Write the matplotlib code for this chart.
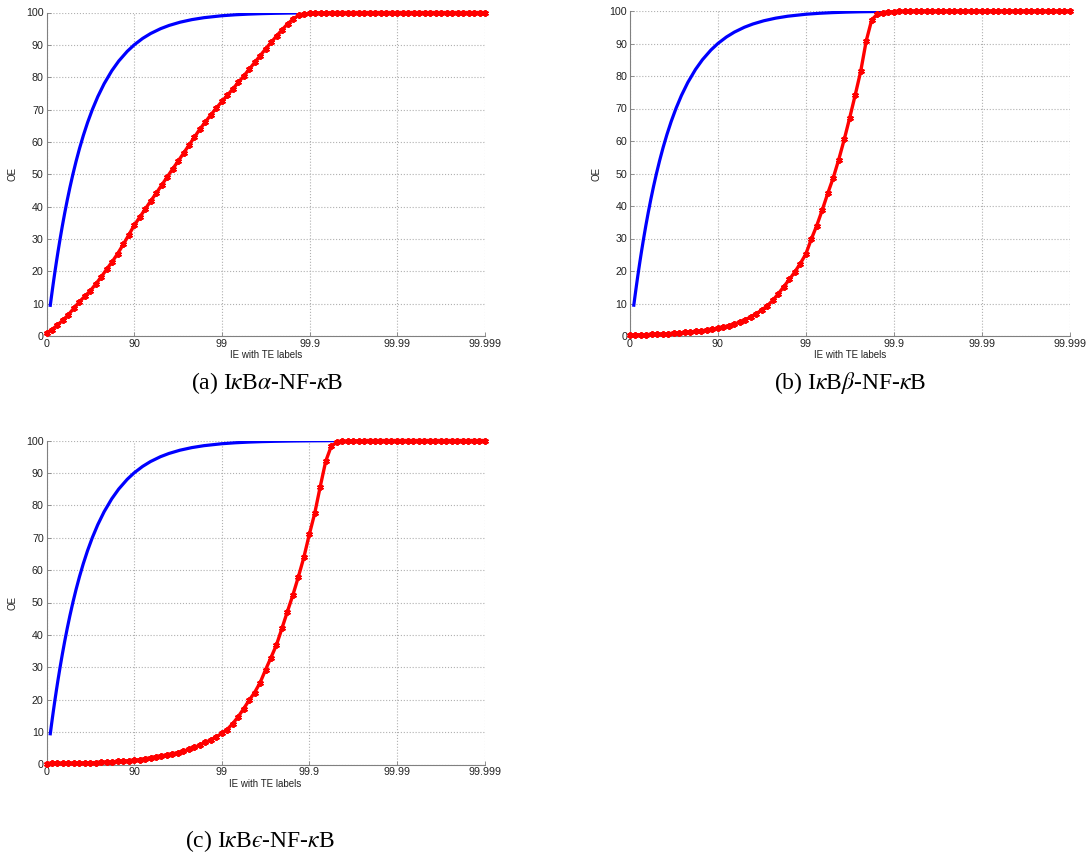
import numpy as np
import matplotlib
matplotlib.use("Agg")
import matplotlib.pyplot as plt

plt.rcParams["font.family"] = ["Liberation Sans", "DejaVu Sans"]
plt.rcParams["mathtext.fontset"] = "stix"

# x axis: number of "nines" of IE, labelled with the TE values
tick_pos = [0, 1, 2, 3, 4, 5]
tick_labels = ["0", "90", "99", "99.9", "99.99", "99.999"]

# reference diagonal OE = IE (percent)
ie_diag = [9, 10, 12, 14, 16, 18, 20, 23, 26, 30, 34, 38, 42, 46, 50, 54, 58,
           62, 66, 70, 74, 78, 82, 85, 88, 90, 92, 93.5, 95, 96, 97, 97.8,
           98.4, 99, 99.3, 99.5, 99.65, 99.75, 99.85, 99.9, 99.94, 99.97,
           99.99, 99.995, 99.999]

# OE of each complex on a grid of 1/16 nine steps from 0 to 5
oe_alpha = [0.8, 2.0, 3.4, 4.9, 6.6, 8.6, 10.6, 12.3, 14.0, 16.1, 18.3, 20.7,
            23.0, 25.5, 28.3, 31.2, 34.2, 36.7, 39.2, 41.7, 44.1, 46.6, 49.1,
            51.6, 54.0, 56.5, 59.0, 61.5, 64.0, 66.2, 68.4, 70.5, 72.5, 74.4,
            76.4, 78.4, 80.4, 82.5, 84.6, 86.7, 88.8, 90.8, 92.8, 94.7, 96.5,
            98.0, 99.1, 99.5, 99.7, 99.8, 99.9, 99.9,
            100, 100, 100, 100, 100, 100, 100, 100, 100, 100, 100, 100, 100,
            100, 100, 100, 100, 100, 100, 100, 100, 100, 100, 100, 100, 100,
            100, 100, 100]

oe_beta = [0.3, 0.35, 0.4, 0.45, 0.5, 0.55, 0.65, 0.75, 0.85, 0.95, 1.1, 1.25,
           1.4, 1.6, 1.85, 2.1, 2.4, 2.8, 3.2, 3.7, 4.3, 5.0, 5.9, 6.9, 8.0,
           9.3, 11.0, 13.0, 15.2, 17.4, 19.7, 22.3, 25.2, 29.8, 34.0, 38.8,
           43.9, 48.7, 54.3, 60.5, 67.2, 74.2, 81.5, 90.8, 97.3, 99.0, 99.5,
           99.7, 99.8, 99.9, 99.9,
           100, 100, 100, 100, 100, 100, 100, 100, 100, 100, 100, 100, 100,
           100, 100, 100, 100, 100, 100, 100, 100, 100, 100, 100, 100, 100,
           100, 100, 100, 100]

oe_epsilon = [0.3, 0.32, 0.34, 0.36, 0.38, 0.41, 0.45, 0.5, 0.55, 0.6, 0.68,
              0.75, 0.85, 0.95, 1.05, 1.15, 1.3, 1.5, 1.8, 2.1, 2.4, 2.7, 3.0,
              3.3, 3.7, 4.1, 4.7, 5.3, 6.0, 6.8, 7.6, 8.5, 9.6, 10.8, 12.6,
              14.7, 17.2, 19.8, 22.2, 25.2, 29.2, 33.0, 36.9, 42.0, 47.2, 52.3,
              57.9, 63.9, 71.0, 77.6, 85.8, 93.6, 98.2, 99.4, 99.7, 99.8, 99.9,
              99.9,
              100, 100, 100, 100, 100, 100, 100, 100, 100, 100, 100, 100, 100,
              100, 100, 100, 100, 100, 100, 100, 100, 100, 100]

captions = [r"(a) I$\kappa$B$\alpha$-NF-$\kappa$B",
            r"(b) I$\kappa$B$\beta$-NF-$\kappa$B",
            "(c) I$\\kappa$B$\u03f5$-NF-$\\kappa$B"]

W, H = 1091, 856
fig = plt.figure(figsize=(W / 100, H / 100), dpi=100)


def px_axes(left, top, right, bottom):
    return fig.add_axes([left / W, 1 - bottom / H, (right - left) / W,
                         (bottom - top) / H])


boxes = [(46.5, 12.5, 485, 336), (630, 11, 1069.5, 336),
         (46.5, 440.5, 484.5, 764.5)]
caption_xy = [(267, 383), (850, 383), (260, 841)]
series = [oe_alpha, oe_beta, oe_epsilon]

diag_x = -np.log10(1 - np.array(ie_diag) / 100.0)

for box, oe, cap, cxy in zip(boxes, series, captions, caption_xy):
    ax = px_axes(*box)
    nines = np.arange(len(oe)) / 16.0
    ax.plot(diag_x, ie_diag, color="#0000ff", lw=2.3, solid_capstyle="butt",
            zorder=3)
    ax.plot(nines, oe, color="#ff0000", lw=2.4, marker=(6, 2, 0),
            ms=4.8, mew=1.4, mec="#ff0000", zorder=4, clip_on=False)
    ax.set_xlim(0, 5)
    ax.set_ylim(0, 100)
    ax.set_xticks(tick_pos)
    ax.set_xticklabels(tick_labels)
    ax.set_yticks(np.arange(0, 101, 10))
    ax.grid(True, linestyle=":", color="#b0b0b0", lw=0.8)
    for s in ("top", "right"):
        ax.spines[s].set_visible(False)
    for s in ("left", "bottom"):
        ax.spines[s].set_color("#808080")
        ax.spines[s].set_linewidth(0.8)
    ax.tick_params(direction="in", length=3, width=0.6, color="#808080",
                   labelsize=7.7, labelcolor="#222222", pad=2)
    ax.set_xlabel("IE with TE labels", fontsize=7, color="#222222", labelpad=1)
    ax.set_ylabel("OE", fontsize=7, color="#222222", labelpad=6)
    fig.text(cxy[0] / W, 1 - cxy[1] / H, cap, ha="center", va="center",
             fontsize=17, family=["Liberation Serif", "DejaVu Serif"])

fig.savefig("out.png", dpi=100)
